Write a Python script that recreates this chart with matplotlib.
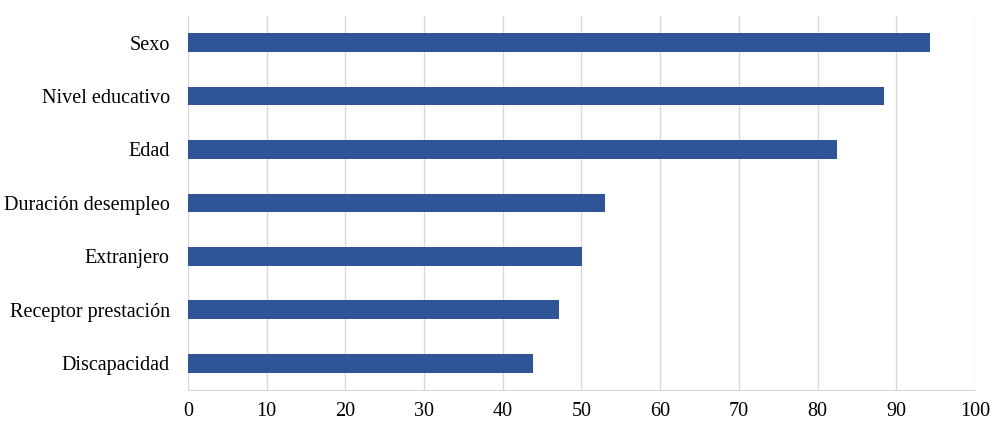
import matplotlib.pyplot as plt

categorias = ['Sexo', 'Nivel educativo', 'Edad', 'Duración desempleo',
              'Extranjero', 'Receptor prestación', 'Discapacidad']
valores = [94.3, 88.4, 82.5, 53.0, 50.1, 47.1, 43.9]

plt.rcParams['font.family'] = ['Liberation Serif', 'DejaVu Serif']

fig = plt.figure(figsize=(9.99, 4.29), dpi=100)
ax = fig.add_axes([0.188, 0.091, 0.788, 0.872])

pos = list(range(len(categorias)))[::-1]
ax.barh(pos, valores, height=0.35, color='#2F5597', zorder=3)
ax.set_yticks(pos)
ax.set_yticklabels(categorias, fontsize=14.5)
ax.set_ylim(-0.5, 6.5)
ax.set_xlim(0, 100)
ax.set_xticks(range(0, 101, 10))
ax.tick_params(axis='x', labelsize=14.5, length=0, pad=9)
ax.tick_params(axis='y', length=0, pad=13)
ax.grid(axis='x', color='#d9d9d9', linewidth=1, zorder=0)
for s in ['top', 'right', 'left']:
    ax.spines[s].set_visible(False)
ax.spines['bottom'].set_color('#d9d9d9')

fig.savefig('out.png', dpi=100)
